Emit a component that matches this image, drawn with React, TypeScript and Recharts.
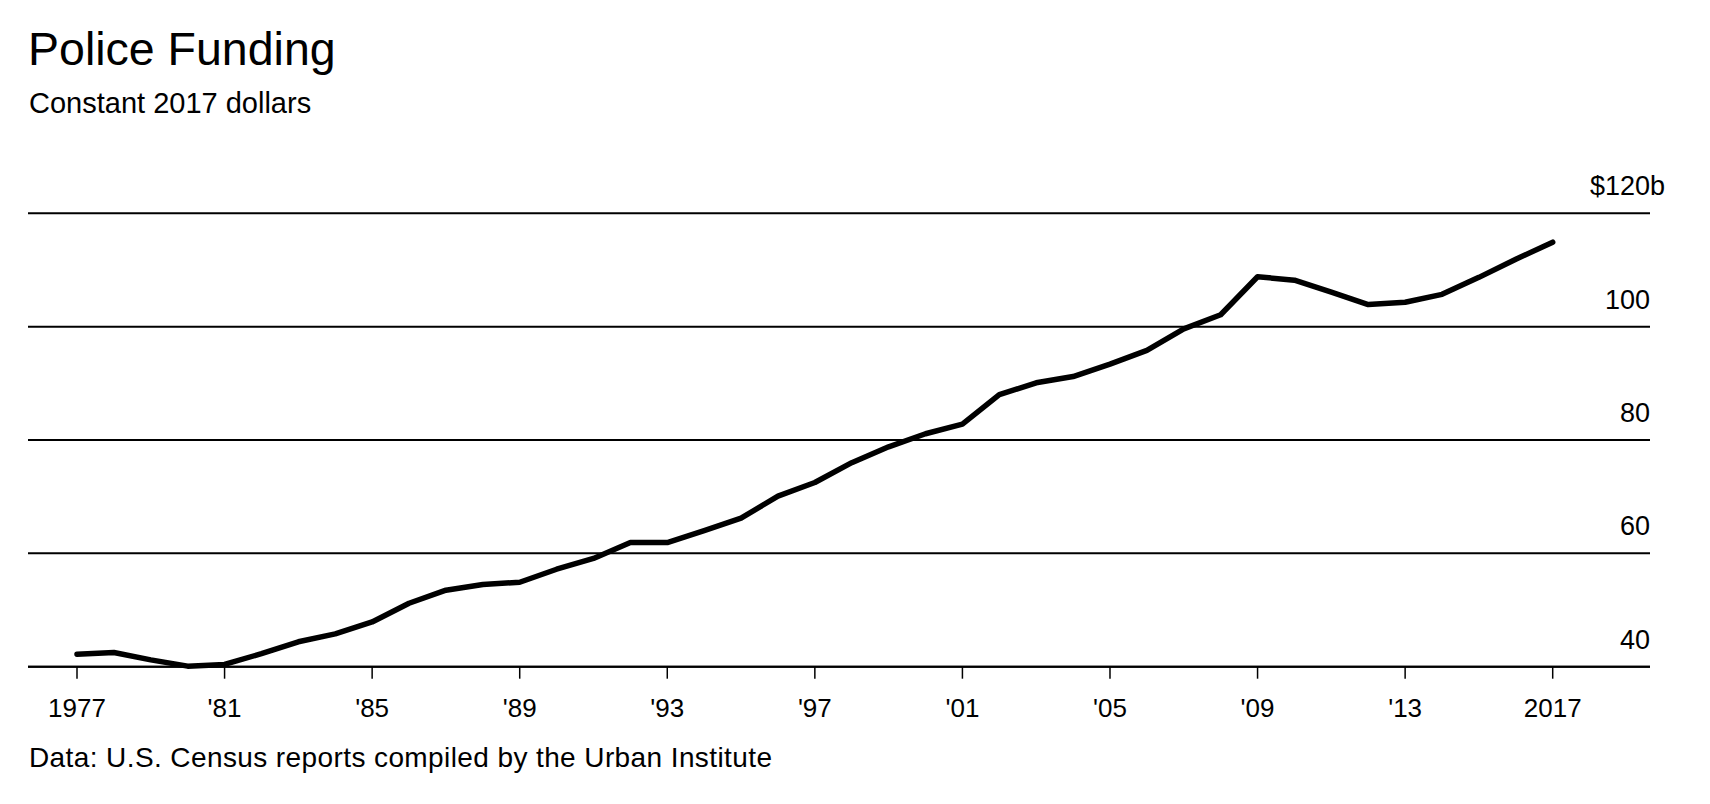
import React from 'react';
import { LineChart, Line, XAxis, YAxis, CartesianGrid } from 'recharts';

// Police funding, constant 2017 dollars (billions)
const years = [
  1977, 1978, 1979, 1980, 1981, 1982, 1983, 1984, 1985, 1986,
  1987, 1988, 1989, 1990, 1991, 1992, 1993, 1994, 1995, 1996,
  1997, 1998, 1999, 2000, 2001, 2002, 2003, 2004, 2005, 2006,
  2007, 2008, 2009, 2010, 2011, 2012, 2013, 2014, 2015, 2016, 2017,
];
const funding = [
  42.2, 42.5, 41.2, 40.1, 40.4, 42.3, 44.4, 45.8, 47.9, 51.2,
  53.5, 54.5, 54.9, 57.2, 59.1, 61.9, 61.9, 64.0, 66.2, 70.1,
  72.5, 76.0, 78.8, 81.1, 82.8, 88.0, 90.1, 91.2, 93.4, 95.8,
  99.6, 102.1, 108.8, 108.2, 106.1, 103.9, 104.3, 105.7, 108.7, 111.9, 114.9,
];
const xTicks = [1977, 1981, 1985, 1989, 1993, 1997, 2001, 2005, 2009, 2013, 2017];
const yTicks = [40, 60, 80, 100, 120];

const data = years.map((year, i) => ({ year, value: funding[i] }));

const FONT = '"Liberation Sans", Arial, Helvetica, sans-serif';

const fmtYear = (y: number) => (y === 1977 || y === 2017 ? String(y) : "'" + String(y).slice(2));

// value labels sit above each gridline, right aligned with its end
const renderYTick = (props: any) => {
  const { x, y, payload } = props;
  const v = payload.value;
  if (v === 120) {
    return (
      <g key={'yt' + v}>
        <text x={x} y={y - 18} textAnchor="end" fontSize={27} fill="#000">$120</text>
        <text x={x} y={y - 18} textAnchor="start" fontSize={27} fill="#000">b</text>
      </g>
    );
  }
  return (
    <text key={'yt' + v} x={x} y={y - 18} textAnchor="end" fontSize={27} fill="#000">{v}</text>
  );
};

const App: React.FC = () => {
  return (
    <div
      style={{
        position: 'absolute', left: 0, top: 0, width: 1710, height: 804,
        background: '#fff', fontFamily: FONT, color: '#000',
      }}
    >
      <div style={{ position: 'absolute', left: 28, top: 26, fontSize: 46.5, lineHeight: 1 }}>
        Police Funding
      </div>
      <div style={{ position: 'absolute', left: 29, top: 88.5, fontSize: 29, lineHeight: 1 }}>
        Constant 2017 dollars
      </div>

      <LineChart
        width={1710}
        height={804}
        data={data}
        margin={{ top: 213.3, right: 0, bottom: 97.3, left: 28 }}
      >
        <CartesianGrid vertical={false} stroke="#000" strokeWidth={2} />
        <XAxis
          dataKey="year"
          type="number"
          domain={[1977, 2017]}
          ticks={xTicks}
          tickFormatter={fmtYear}
          padding={{ left: 49, right: 97.3 }}
          height={40}
          tickSize={12}
          tickMargin={20}
          axisLine={{ stroke: '#000', strokeWidth: 2 }}
          tickLine={{ stroke: '#000', strokeWidth: 1.5 }}
          tick={{ fill: '#000', fontSize: 26 }}
        />
        <YAxis
          orientation="right"
          domain={[40, 120]}
          ticks={yTicks}
          width={60}
          axisLine={false}
          tickLine={false}
          tickSize={0}
          tickMargin={0}
          tick={renderYTick}
        />
        <Line
          type="linear"
          dataKey="value"
          stroke="#000"
          strokeWidth={5.5}
          strokeLinecap="round"
          strokeLinejoin="round"
          dot={false}
          isAnimationActive={false}
        />
      </LineChart>

      <div style={{ position: 'absolute', left: 29, top: 744, fontSize: 28, lineHeight: 1, letterSpacing: 0.4 }}>
        Data: U.S. Census reports compiled by the Urban Institute
      </div>
    </div>
  );
};

export default App;
